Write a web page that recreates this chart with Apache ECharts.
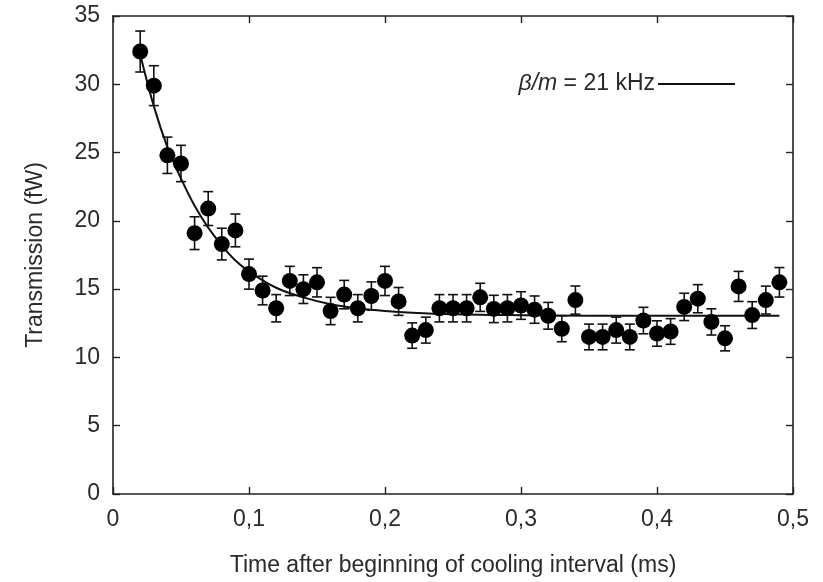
<!DOCTYPE html>
<html><head><meta charset="utf-8">
<script src="https://cdn.jsdelivr.net/npm/echarts@6/dist/echarts.min.js"></script>
<style>html,body{margin:0;padding:0;background:#fff}#c{width:823px;height:582px}</style>
</head><body><div id="c"></div>
<script>
var times = [0.02,0.03,0.04,0.05,0.06,0.07,0.08,0.09,0.10,0.11,0.12,0.13,0.14,0.15,0.16,0.17,0.18,0.19,0.20,0.21,0.22,0.23,0.24,0.25,0.26,0.27,0.28,0.29,0.30,0.31,0.32,0.33,0.34,0.35,0.36,0.37,0.38,0.39,0.40,0.41,0.42,0.43,0.44,0.45,0.46,0.47,0.48,0.49];
var transmission = [32.4,29.9,24.8,24.2,19.1,20.9,18.3,19.3,16.1,14.9,13.6,15.6,15.0,15.5,13.4,14.6,13.6,14.5,15.6,14.1,11.6,12.0,13.6,13.6,13.6,14.4,13.55,13.6,13.8,13.5,13.05,12.1,14.2,11.5,11.5,12.0,11.5,12.7,11.75,11.9,13.7,14.3,12.6,11.4,15.2,13.1,14.2,15.5];
var errors = [1.5,1.46,1.33,1.33,1.2,1.24,1.16,1.2,1.1,1.05,1.0,1.07,1.05,1.07,1.0,1.04,1.0,1.03,1.07,1.02,0.93,0.95,1.0,1.0,1.0,1.03,1.0,1.0,1.01,1.0,0.98,0.95,1.03,0.94,0.94,0.95,0.94,0.97,0.93,0.94,1.0,1.03,0.96,0.92,1.1,0.98,1.02,1.08];
var fitTimes = [0.02,0.03,0.04,0.05,0.06,0.07,0.08,0.09,0.10,0.12,0.14,0.16,0.18,0.20,0.22,0.25,0.30,0.35,0.40,0.49];
var fitValues = [32.2,28.4,25.4,23.1,21.1,19.5,18.2,17.1,16.3,15.1,14.4,13.9,13.6,13.4,13.27,13.16,13.09,13.06,13.05,13.05];
var xTicks = [0,0.1,0.2,0.3,0.4,0.5];
var yTicks = [0,5,10,15,20,25,30,35];
var legendItalic = 'β/m';
var legendRest = ' = 21 kHz';

var points = times.map(function(t,i){return [t, transmission[i]];});
var bars = times.map(function(t,i){return [t, transmission[i]-errors[i], transmission[i]+errors[i]];});
var fit = fitTimes.map(function(t,i){return [t, fitValues[i]];});

var chart = echarts.init(document.getElementById('c'));
var fontFam = 'Liberation Sans, Arial, sans-serif';
var txtCol = '#2a2a2a';
var fs = 23;
function fmt(v){return String(v).replace('.', ',');}
var axisLineS = {show:true, onZero:false, lineStyle:{color:'#222', width:1.6}};
var tickS = {show:true, inside:true, length:7, lineStyle:{color:'#222', width:1.4}};
chart.setOption({
  animation:false,
  backgroundColor:'#fff',
  grid:{left:113, right:30, top:16, bottom:86, show:false},
  xAxis:[{
    type:'value', min:0, max:0.5, interval:0.1,
    axisLine:axisLineS, axisTick:tickS, splitLine:{show:false},
    axisLabel:{formatter:fmt, color:txtCol, fontSize:fs, fontFamily:fontFam, margin:14},
    name:'Time after beginning of cooling interval (ms)', nameLocation:'middle', nameGap:60,
    nameTextStyle:{color:txtCol, fontSize:fs, fontFamily:fontFam}
  },{
    type:'value', position:'top', min:0, max:0.5, interval:0.1,
    axisLine:axisLineS, axisTick:tickS, axisLabel:{show:false}, splitLine:{show:false}
  }],
  yAxis:[{
    type:'value', min:0, max:35, interval:5,
    axisLine:axisLineS, axisTick:tickS, splitLine:{show:false},
    axisLabel:{color:txtCol, fontSize:fs, fontFamily:fontFam, margin:13},
    name:'Transmission (fW)', nameLocation:'middle', nameGap:66,
    nameTextStyle:{color:txtCol, fontSize:fs, fontFamily:fontFam}
  },{
    type:'value', position:'right', min:0, max:35, interval:5,
    axisLine:axisLineS, axisTick:tickS, axisLabel:{show:false}, splitLine:{show:false}
  }],
  series:[{
    type:'line', data:fit, smooth:0.4, showSymbol:false, symbol:'none',
    lineStyle:{color:'#111', width:2}, z:2
  },{
    type:'custom', data:bars, z:3,
    renderItem:function(params, api){
      var x = api.value(0);
      var lo = api.coord([x, api.value(1)]);
      var hi = api.coord([x, api.value(2)]);
      var w = 5;
      var st = {stroke:'#111', lineWidth:1.6};
      return {type:'group', children:[
        {type:'line', shape:{x1:lo[0],y1:lo[1],x2:hi[0],y2:hi[1]}, style:st},
        {type:'line', shape:{x1:lo[0]-w,y1:lo[1],x2:lo[0]+w,y2:lo[1]}, style:st},
        {type:'line', shape:{x1:hi[0]-w,y1:hi[1],x2:hi[0]+w,y2:hi[1]}, style:st}
      ]};
    }
  },{
    type:'scatter', data:points, symbol:'circle', symbolSize:16,
    itemStyle:{color:'#000', opacity:1}, z:4
  }],
  graphic:[{
    type:'text', x:655, y:84,
    style:{rich:{i:{fontStyle:'italic', fontSize:fs, fontFamily:fontFam, fill:txtCol}, n:{fontSize:fs, fontFamily:fontFam, fill:txtCol}},
      text:'{i|' + legendItalic + '}{n|' + legendRest + '}', align:'right', verticalAlign:'middle'}
  },{
    type:'line', shape:{x1:658, y1:84, x2:735, y2:84}, style:{stroke:'#111', lineWidth:2.2}
  }]
});
</script></body></html>
